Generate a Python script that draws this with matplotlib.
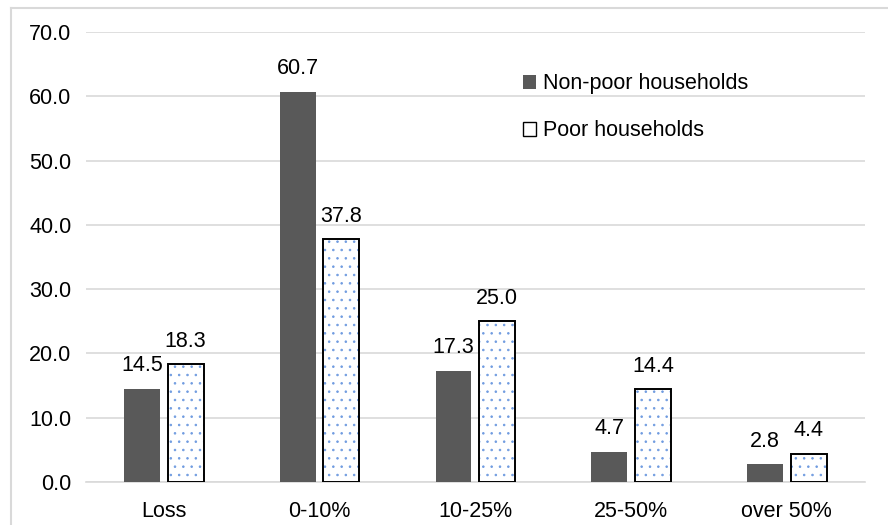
import numpy as np
import matplotlib.pyplot as plt
from matplotlib.patches import Patch
from matplotlib.lines import Line2D

plt.rcParams['font.family'] = ['Liberation Sans', 'DejaVu Sans']
plt.rcParams['hatch.linewidth'] = 0.6

categories = ['Loss', '0-10%', '10-25%', '25-50%', 'over 50%']
non_poor = [14.5, 60.7, 17.3, 4.7, 2.8]
poor = [18.3, 37.8, 25.0, 14.4, 4.4]

x = np.arange(len(categories))
w = 0.23
off = 0.14
fs = 15.5

fig = plt.figure(figsize=(8.88, 5.25), dpi=100)
ax = fig.add_axes([0.0968, 0.0819, 0.877, 0.857])

ax.bar(x - off, non_poor, w, color='#595959', zorder=3)
# dotted fill first, then the black outline on top
ax.bar(x + off, poor, w, facecolor='white', edgecolor='#6f9be0', hatch='..',
       linewidth=0, zorder=3)
ax.bar(x + off, poor, w, facecolor='none', edgecolor='black', linewidth=1.4, zorder=4)

for xi, v in zip(x - off, non_poor):
    ax.annotate(f'{v:.1f}', (xi, v), xytext=(0, 9), textcoords='offset points',
                ha='center', va='bottom', fontsize=fs)
for xi, v in zip(x + off, poor):
    ax.annotate(f'{v:.1f}', (xi, v), xytext=(0, 9), textcoords='offset points',
                ha='center', va='bottom', fontsize=fs)

ax.set_xlim(-0.5, 4.5)
ax.set_ylim(0, 70)
ax.set_yticks(np.arange(0, 71, 10))
ax.set_yticklabels([f'{t:.1f}' for t in np.arange(0, 71, 10)])
ax.set_xticks(x)
ax.set_xticklabels(categories)
ax.tick_params(axis='both', length=0, labelsize=fs, colors='black')
ax.tick_params(axis='y', pad=10.5)
ax.tick_params(axis='x', pad=14)
ax.grid(axis='y', color='#d9d9d9', linewidth=1.2, zorder=0)
for s in ['top', 'right', 'left']:
    ax.spines[s].set_visible(False)
ax.spines['bottom'].set_color('#d9d9d9')
ax.spines['bottom'].set_linewidth(1.2)

handles = [Patch(facecolor='#595959', edgecolor='none', label='Non-poor households'),
           Patch(facecolor='white', edgecolor='black', linewidth=1, label='Poor households')]
ax.legend(handles=handles, loc='upper left', bbox_to_anchor=(0.536, 0.951),
          frameon=False, fontsize=fs, handlelength=0.6, handleheight=0.6,
          handletextpad=0.35, labelspacing=1.2)

# chart frame, left and top edges only
fig.add_artist(Line2D([11/888, 11/888], [0, 1 - 8/525], color='#d9d9d9', linewidth=1.5))
fig.add_artist(Line2D([11/888, 1], [1 - 8/525, 1 - 8/525], color='#d9d9d9', linewidth=1.5))

fig.savefig('out.png', dpi=100)
